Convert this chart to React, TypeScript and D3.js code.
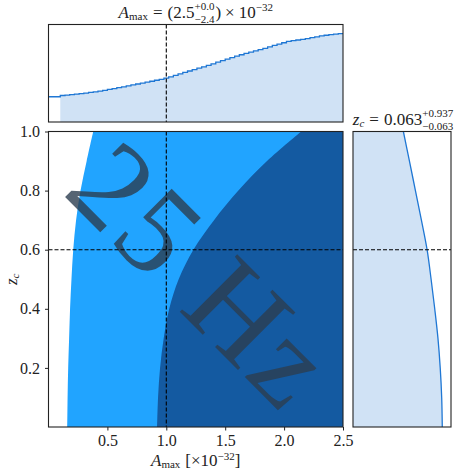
import * as d3 from "d3";
import { useRef, useEffect } from "react";

// posterior regions in the (A_max, z_c) plane: lower A edge at each z_c
const zcGrid = [0, 0.1, 0.2, 0.3, 0.4, 0.5, 0.6, 0.7, 0.8, 0.9, 1.0];
const aEdgeOuter = [0.159, 0.162, 0.167, 0.175, 0.183, 0.195, 0.21, 0.234, 0.272, 0.324, 0.38];
const aEdgeInner = [0.922, 0.93, 0.947, 0.978, 1.025, 1.105, 1.23, 1.405, 1.612, 1.855, 2.146];

// marginal of A_max (step histogram)
const aHistStart = 0.1;
const aHistBin = 0.04;
const aHistLead = 25.9;
const aHist = [
  27.2, 27.6, 28.0, 28.6, 29.1, 29.7, 30.3, 30.9, 31.7, 32.5,
  33.4, 34.3, 35.2, 36.1, 37.1, 38.0, 39.0, 39.9, 40.9, 41.8,
  42.8, 43.8, 44.9, 46.3, 47.8, 49.3, 50.8, 52.3, 53.8, 55.2,
  56.6, 58.1, 59.7, 61.4, 63.0, 64.5, 66.0, 67.6, 69.0, 70.3,
  71.6, 72.9, 74.2, 75.6, 77.0, 78.5, 79.9, 81.3, 82.6, 83.4,
  84.1, 84.8, 85.6, 86.5, 87.4, 88.4, 89.0, 89.6, 90.1, 90.7
];

// marginal of z_c
const zcDensity = [91.1, 90.5, 89.0, 86.7, 83.4, 79.7, 75.6, 69.8, 63.7, 57.6, 51.4];

const aTicks = [0.5, 1.0, 1.5, 2.0, 2.5];
const zcTicks = [0.2, 0.4, 0.6, 0.8, 1.0];
const aTrue = 1.0;
const zcTrue = 0.6;

const FONT = "'Liberation Serif', 'DejaVu Serif', serif";
const INK = "#222";

type Piece = {
  t: string;
  size?: number;
  dy?: number;
  italic?: boolean;
  sub?: string;
  subDy?: number;
  gapBefore?: number;
  gapAfter?: number;
};

function mathText(parent: any, x: number, y: number, pieces: Piece[], base: number, rotate = 0) {
  const g = parent.append("g").attr("transform", `translate(${x},${y}) rotate(${rotate})`);
  const inner = g.append("g");
  let cx = 0;
  for (const p of pieces) {
    cx += p.gapBefore ?? 0;
    const size = p.size ?? base;
    const t = inner.append("text")
      .attr("x", cx)
      .attr("y", p.dy ?? 0)
      .attr("font-size", size)
      .attr("font-family", FONT)
      .attr("font-style", p.italic ? "italic" : "normal")
      .attr("fill", INK)
      .text(p.t);
    let w = t.node().getComputedTextLength();
    if (p.sub) {
      const s = inner.append("text")
        .attr("x", cx)
        .attr("y", p.subDy ?? 0)
        .attr("font-size", size)
        .attr("font-family", FONT)
        .attr("fill", INK)
        .text(p.sub);
      w = Math.max(w, s.node().getComputedTextLength());
    }
    cx += w + (p.gapAfter ?? 0);
  }
  inner.attr("transform", `translate(${-cx / 2},0)`);
}

export default function App() {
  const svgRef = useRef<SVGSVGElement>(null);
  const width = 475;
  const height = 475;

  useEffect(() => {
    const svg = d3.select(svgRef.current);
    svg.selectAll("*").remove();

    const main = { left: 48.5, right: 343, top: 131.5, bottom: 427 };
    const top = { top: 24.5, bottom: 122 };
    const side = { left: 353, right: 451 };

    const x = d3.scaleLinear().domain([0, 2.5]).range([main.left, main.right]);
    const y = d3.scaleLinear().domain([0, 1]).range([main.bottom, main.top]);
    const yTop = d3.scaleLinear().domain([0, 100]).range([top.bottom, top.top]);
    const xSide = d3.scaleLinear().domain([0, 100]).range([side.left, side.right]);

    svg.append("defs").append("clipPath").attr("id", "mainClip")
      .append("rect")
      .attr("x", main.left).attr("y", main.top)
      .attr("width", main.right - main.left).attr("height", main.bottom - main.top);

    // main panel
    const body = svg.append("g").attr("clip-path", "url(#mainClip)");
    const region = (edges: number[]) => d3.area<number>()
      .y((z) => y(z))
      .x0((z, i) => x(edges[i]))
      .x1(x(2.5) + 2)
      .curve(d3.curveCatmullRom.alpha(0.5))(zcGrid);

    body.append("path").attr("d", region(aEdgeOuter)).attr("fill", "#22a4ff");
    body.append("path").attr("d", region(aEdgeInner)).attr("fill", "#145aa2");

    body.append("text")
      .attr("transform", `translate(${(main.left + main.right) / 2 + 6},${(main.top + main.bottom) / 2 - 4}) rotate(45)`)
      .attr("text-anchor", "middle")
      .attr("dominant-baseline", "central")
      .attr("font-family", FONT)
      .attr("font-size", 124)
      .attr("letter-spacing", 3)
      .attr("fill", "#2c3e50")
      .attr("opacity", 0.8)
      .text("25 Hz");

    // top marginal
    const binPts = aHist.map((v, i) => [aHistStart + i * aHistBin, v] as [number, number]);
    const lastPt: [number, number] = [2.5, aHist[aHist.length - 1]];
    svg.append("path")
      .attr("d", d3.area<[number, number]>()
        .x((d) => x(d[0]))
        .y0(yTop(0))
        .y1((d) => yTop(d[1]))
        .curve(d3.curveStepAfter)([...binPts, lastPt]))
      .attr("fill", "#d0e2f5");
    svg.append("path")
      .attr("d", d3.line<[number, number]>()
        .x((d) => x(d[0]))
        .y((d) => yTop(d[1]))
        .curve(d3.curveStepAfter)([[0, aHistLead], ...binPts, lastPt]))
      .attr("fill", "none")
      .attr("stroke", "#1f77d4")
      .attr("stroke-width", 1.3);

    // side marginal
    svg.append("path")
      .attr("d", d3.area<number>()
        .y((z) => y(z))
        .x0(xSide(0))
        .x1((z, i) => xSide(zcDensity[i]))
        .curve(d3.curveCatmullRom.alpha(0.5))(zcGrid))
      .attr("fill", "#d0e2f5");
    svg.append("path")
      .attr("d", d3.line<number>()
        .y((z) => y(z))
        .x((z, i) => xSide(zcDensity[i]))
        .curve(d3.curveCatmullRom.alpha(0.5))(zcGrid))
      .attr("fill", "none")
      .attr("stroke", "#1f77d4")
      .attr("stroke-width", 1.3);

    // truth lines
    const dash = (x1: number, y1: number, x2: number, y2: number) =>
      svg.append("line")
        .attr("x1", x1).attr("y1", y1).attr("x2", x2).attr("y2", y2)
        .attr("stroke", "#000").attr("stroke-width", 1.1)
        .attr("stroke-dasharray", "4,2");
    dash(x(aTrue), top.top, x(aTrue), top.bottom);
    dash(x(aTrue), main.top, x(aTrue), main.bottom);
    dash(main.left, y(zcTrue), main.right, y(zcTrue));
    dash(side.left, y(zcTrue), side.right, y(zcTrue));

    // frames
    const frame = (x0: number, y0: number, x1: number, y1: number) =>
      svg.append("rect")
        .attr("x", x0).attr("y", y0).attr("width", x1 - x0).attr("height", y1 - y0)
        .attr("fill", "none").attr("stroke", INK).attr("stroke-width", 1.1);
    frame(main.left, main.top, main.right, main.bottom);
    frame(main.left, top.top, main.right, top.bottom);
    frame(side.left, main.top, side.right, main.bottom);

    // axes
    const xAxis = svg.append("g")
      .attr("transform", `translate(0,${main.bottom})`)
      .call(d3.axisBottom(x).tickValues(aTicks).tickSize(3.5).tickPadding(4).tickFormat(d3.format(".1f")));
    const yAxis = svg.append("g")
      .attr("transform", `translate(${main.left},0)`)
      .call(d3.axisLeft(y).tickValues(zcTicks).tickSize(3.5).tickPadding(5).tickFormat(d3.format(".1f")));
    [xAxis, yAxis].forEach((ax) => {
      ax.select(".domain").remove();
      ax.attr("font-family", FONT).attr("font-size", 16);
      ax.selectAll("line").attr("stroke", INK);
      ax.selectAll("text").attr("fill", INK);
    });

    // labels
    mathText(svg, (main.left + main.right) / 2, 18, [
      { t: "A", italic: true },
      { t: "max", size: 11, dy: 2, gapAfter: 5 },
      { t: "=", gapAfter: 5 },
      { t: "(2.5" },
      { t: "+0.0", size: 11, dy: -8, sub: "\u22122.4", subDy: 4.5 },
      { t: ")", gapBefore: 1, gapAfter: 4 },
      { t: "\u00d7", gapAfter: 4 },
      { t: "10" },
      { t: "\u221232", size: 11, dy: -7 }
    ], 17);

    mathText(svg, (side.left + side.right) / 2 + 1, 125, [
      { t: "z", italic: true },
      { t: "c", italic: true, size: 11, dy: 2, gapAfter: 5 },
      { t: "=", gapAfter: 5 },
      { t: "0.063" },
      { t: "+0.937", size: 11, dy: -8, sub: "\u22120.063", subDy: 4.5 }
    ], 17);

    mathText(svg, (main.left + main.right) / 2, 466, [
      { t: "A", italic: true },
      { t: "max", size: 11, dy: 2, gapAfter: 5 },
      { t: "[\u00d710" },
      { t: "\u221232", size: 11, dy: -6.5 },
      { t: "]" }
    ], 17);

    mathText(svg, 17, (main.top + main.bottom) / 2, [
      { t: "z", italic: true },
      { t: "c", italic: true, size: 11, dy: 2 }
    ], 17, -90);
  }, []);

  return (
    <svg
      ref={svgRef}
      width={width}
      height={height}
      style={{ position: "absolute", left: 0, top: 0, background: "#fff" }}
    ></svg>
  );
}
